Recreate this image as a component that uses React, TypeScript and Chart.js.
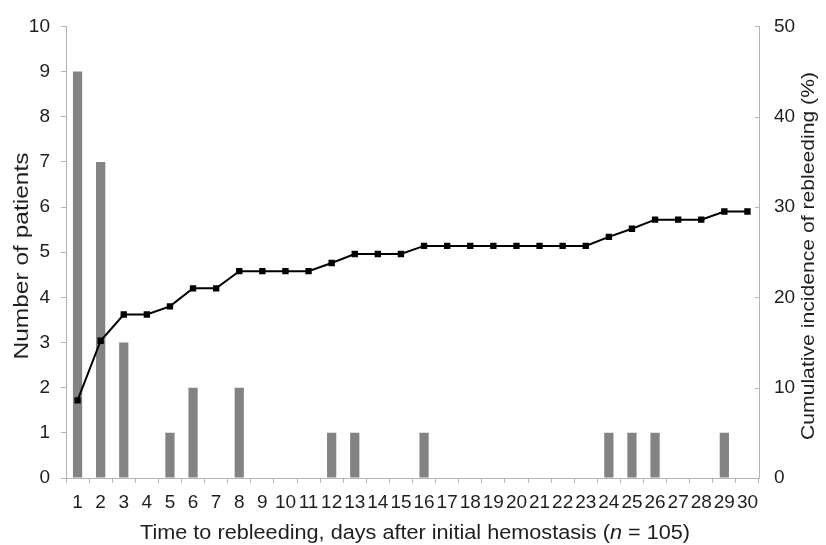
import React, { useEffect, useRef } from "react";
import { Chart, registerables } from "chart.js";

Chart.register(...registerables);

const days = ["1","2","3","4","5","6","7","8","9","10","11","12","13","14","15","16","17","18","19","20","21","22","23","24","25","26","27","28","29","30"];
const patients = [9,7,3,0,1,2,0,2,0,0,0,1,1,0,0,1,0,0,0,0,0,0,0,1,1,1,0,0,1,0];
const cumulativePct = [8.6,15.2,18.1,18.1,19.0,21.0,21.0,22.9,22.9,22.9,22.9,23.8,24.8,24.8,24.8,25.7,25.7,25.7,25.7,25.7,25.7,25.7,25.7,26.7,27.6,28.6,28.6,28.6,29.5,29.5];
const leftTicks = [0,1,2,3,4,5,6,7,8,9,10];
const rightTicks = [0,10,20,30,40,50];

const leftTitle = "Number of patients";
const rightTitle = "Cumulative incidence of rebleeding (%)";
const xTitleParts = [
  { text: "Time to rebleeding, days after initial hemostasis (", italic: false },
  { text: "n", italic: true },
  { text: " = 105)", italic: false },
];

const FONT = "'Liberation Sans', Arial, Helvetica, sans-serif";
const AXIS = "#b4b4b4";
const TEXT = "#1e1e1e";

function drawVertical(ctx: any, text: string, cx: number, cy: number, size: number, length: number) {
  ctx.save();
  ctx.font = `${size}px ${FONT}`;
  const w = ctx.measureText(text).width;
  ctx.translate(cx, cy);
  ctx.rotate(-Math.PI / 2);
  ctx.scale(length / w, 1);
  ctx.textAlign = "center";
  ctx.textBaseline = "middle";
  ctx.fillText(text, 0, 0);
  ctx.restore();
}

const titlePlugin = {
  id: "customTitles",
  afterDraw(chart: any) {
    const { ctx, chartArea } = chart;
    ctx.save();
    ctx.fillStyle = TEXT;
    drawVertical(ctx, leftTitle, 22, 256, 21, 207);
    drawVertical(ctx, rightTitle, 809, 256, 19, 368);
    // right axis tick marks (inside)
    const y1 = chart.scales.y1;
    ctx.strokeStyle = AXIS;
    ctx.lineWidth = 1;
    rightTicks.forEach((v) => {
      const yy = Math.round(y1.getPixelForValue(v)) + 0.5;
      ctx.beginPath();
      ctx.moveTo(chartArea.right - 4, yy);
      ctx.lineTo(chartArea.right, yy);
      ctx.stroke();
    });
    // x title with italic n
    const size = 20;
    const fonts = xTitleParts.map((p) => `${p.italic ? "italic " : ""}${size}px ${FONT}`);
    let total = 0;
    const widths = xTitleParts.map((p, i) => {
      ctx.font = fonts[i];
      const w = ctx.measureText(p.text).width;
      total += w;
      return w;
    });
    const target = 550;
    const sx = target / total;
    ctx.save();
    ctx.translate(415 - target / 2, 539);
    ctx.scale(sx, 1);
    let x = 0;
    ctx.textAlign = "left";
    ctx.textBaseline = "alphabetic";
    xTitleParts.forEach((p, i) => {
      ctx.font = fonts[i];
      ctx.fillText(p.text, x, 0);
      x += widths[i];
    });
    ctx.restore();
    ctx.restore();
  },
};

export default function App() {
  const ref = useRef<HTMLCanvasElement | null>(null);
  useEffect(() => {
    if (!ref.current) return;
    const chart = new Chart(ref.current, {
      data: {
        labels: days,
        datasets: [
          {
            type: "line",
            label: "Cumulative incidence",
            data: cumulativePct,
            yAxisID: "y1",
            borderColor: "#000",
            backgroundColor: "#000",
            borderWidth: 2,
            pointStyle: "rect",
            pointRadius: 4.5,
            pointBorderWidth: 0,
            pointBackgroundColor: "#000",
            tension: 0,
            order: 0,
          },
          {
            type: "bar",
            label: "Patients",
            data: patients,
            yAxisID: "y",
            backgroundColor: "#838383",
            borderWidth: 0,
            barPercentage: 0.4,
            categoryPercentage: 1,
            order: 1,
          },
        ],
      } as any,
      plugins: [titlePlugin],
      options: {
        responsive: false,
        animation: false,
        devicePixelRatio: 1,
        layout: { padding: { top: 20, left: 0, right: 0, bottom: 0 } },
        plugins: { legend: { display: false }, tooltip: { enabled: false }, title: { display: false } },
        scales: {
          x: {
            type: "category",
            offset: true,
            grid: { display: true, drawOnChartArea: false, drawTicks: true, tickLength: 5, color: AXIS, offset: true },
            border: { display: true, color: AXIS, width: 1 },
            ticks: { autoSkip: false, maxRotation: 0, minRotation: 0, color: TEXT, padding: 8, font: { family: FONT, size: 19 } },
            afterFit: (s: any) => { s.height = 67; },
          },
          y: {
            position: "left",
            min: 0,
            max: 10,
            afterBuildTicks: (s: any) => { s.ticks = leftTicks.map((v) => ({ value: v })); },
            grid: { display: true, drawOnChartArea: false, drawTicks: true, tickLength: 5, color: AXIS },
            border: { display: true, color: AXIS, width: 1 },
            ticks: { color: TEXT, padding: 11, font: { family: FONT, size: 19 } },
            afterFit: (s: any) => { s.width = 66; },
          },
          y1: {
            position: "right",
            min: 0,
            max: 50,
            afterBuildTicks: (s: any) => { s.ticks = rightTicks.map((v) => ({ value: v })); },
            grid: { display: false, drawOnChartArea: false, drawTicks: false },
            border: { display: true, color: AXIS, width: 1 },
            ticks: { color: TEXT, padding: 15, font: { family: FONT, size: 19 } },
            afterFit: (s: any) => { s.width = 67; },
          },
        },
      } as any,
    });
    return () => chart.destroy();
  }, []);
  return (
    <div style={{ position: "fixed", left: 0, top: 0, width: 826, height: 545, background: "#fff" }}>
      <canvas ref={ref} width={826} height={545} style={{ width: 826, height: 545, display: "block" }} />
    </div>
  );
}
